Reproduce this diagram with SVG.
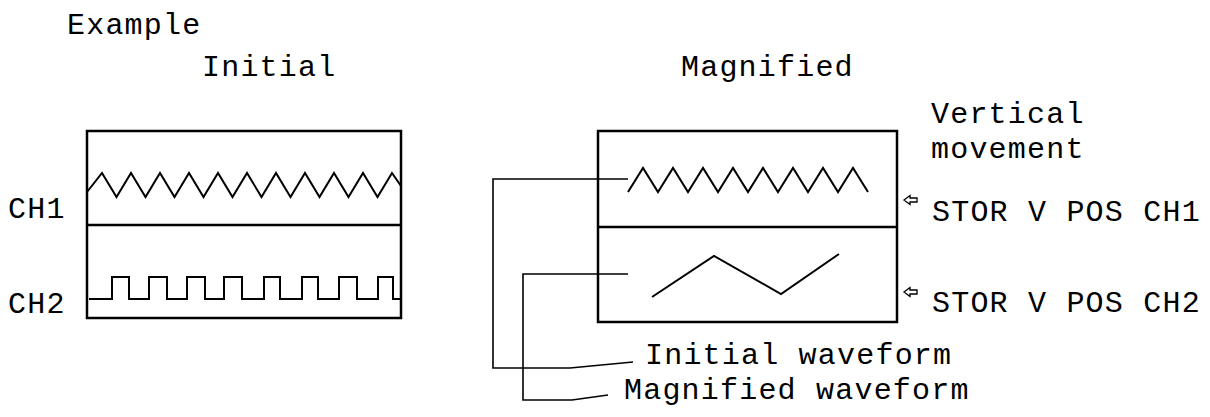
<svg xmlns="http://www.w3.org/2000/svg" width="1210" height="417" viewBox="0 0 1210 417">
<style>
text{font-family:"Liberation Mono","Courier New",monospace;font-size:30px;letter-spacing:1.2px;fill:#000}
.box{fill:none;stroke:#000;stroke-width:2.5}
.wave{fill:none;stroke:#000;stroke-width:2;stroke-linejoin:miter}
.conn{fill:none;stroke:#000;stroke-width:1.6}
.arr{fill:#fff;stroke:#000;stroke-width:1.3}
</style>
<rect width="1210" height="417" fill="#fff"/>
<g id="titles">
<text x="67" y="34">Example</text>
<text x="202" y="76">Initial</text>
<text x="681" y="76">Magnified</text>
</g>
<g id="initial-display">
<rect class="box" x="87" y="131" width="314" height="187"/>
<line class="box" x1="87" y1="225" x2="401" y2="225"/>
<polyline class="wave" points="87,192 102,173 116.5,197 131,173 145.5,197 160,173 174.5,197 189,173 203.5,197 218,173 232.5,197 247,173 261.5,197 276,173 290.5,197 305,173 319.5,197 334,173 348.5,197 363,173 377.5,197 392,173 401,186"/>
<polyline class="wave" points="89,299 112,299 112,277 129,277 129,299 149,299 149,277 167,277 167,299 187,299 187,277 205,277 205,299 224,299 224,277 242,277 242,299 264,299 264,277 280,277 280,299 302,299 302,277 318,277 318,299 339,299 339,277 357,277 357,299 378,299 378,277 393,277 393,299 401,299"/>
<text x="8" y="218">CH1</text>
<text x="8" y="313">CH2</text>
</g>
<g id="magnified-display">
<rect class="box" x="598" y="131" width="299" height="191"/>
<line class="box" x1="598" y1="227" x2="897" y2="227"/>
<polyline class="wave" points="628,192 643,168 658,192 673,168 688,192 703,168 718,192 733,168 748,192 763,168 778,192 793,168 808,192 823,168 838,192 853,168 868,192"/>
<polyline class="wave" points="652,297 714,256 781,294 839,254"/>
</g>
<g id="vertical-movement">
<text x="931" y="123">Vertical</text>
<text x="931" y="158">movement</text>
<path class="arr" d="M904,200 L910,195.5 L910,198 L917,198 L917,202 L910,202 L910,204.5 Z"/>
<text x="932" y="221">STOR V POS CH1</text>
<path class="arr" d="M904,292 L910,287.5 L910,290 L917,290 L917,294 L910,294 L910,296.5 Z"/>
<text x="932" y="312">STOR V POS CH2</text>
</g>
<g id="connectors">
<polyline class="conn" points="628,179 493,179 493,368 570,368 633,362"/>
<polyline class="conn" points="628,274 523,274 523,400 572,400 608,395"/>
</g>
<g id="legend">
<text x="645" y="364">Initial waveform</text>
<text x="624" y="399">Magnified waveform</text>
</g>
</svg>
